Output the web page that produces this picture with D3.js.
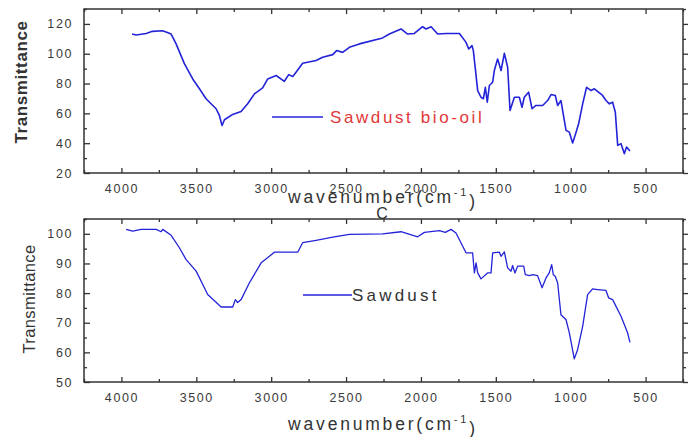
<!DOCTYPE html>
<html>
<head>
<meta charset="utf-8">
<script src="https://cdn.jsdelivr.net/npm/d3@7"></script>
<style>
  html, body { margin: 0; padding: 0; background: #fff; }
  svg { display: block; font-family: "Liberation Sans", Arial, sans-serif; }
</style>
</head>
<body>
<svg id="chart" width="696" height="437"></svg>
<script>
// ---- Data ----
const xTicks = [4000, 3500, 3000, 2500, 2000, 1500, 1000, 500];
const topYTicks = [20, 40, 60, 80, 100, 120];
const bottomYTicks = [50, 60, 70, 80, 90, 100];

const bioOilWavenumber = [3929,3902,3835,3793,3726,3693,3668,3635,3579,3524,3479,3435,3368,3346,3328,3312,3257,3201,3157,3112,3057,3023,2967,2912,2883,2856,2834,2790,2700,2656,2589,2563,2523,2478,2411,2256,2211,2133,2089,2044,1989,1966,1932,1888,1832,1743,1699,1681,1659,1650,1621,1599,1583,1570,1557,1543,1521,1510,1488,1465,1443,1421,1405,1376,1343,1325,1310,1281,1258,1232,1187,1154,1131,1103,1087,1065,1031,1009,987,964,947,920,894,864,842,787,764,742,720,702,686,664,642,627,604];
const bioOilTransmittance = [113.2,112.6,113.6,115,115.4,114.3,113.2,106.6,93.2,83.1,76.5,69.8,63.1,58.6,51.9,55.7,59.3,61.3,66.4,73.1,77.1,83.1,85.4,81.5,86,84.7,87.6,93.6,95.4,97.6,99.4,102.1,100.9,104.3,106.6,110.6,113.2,116.6,113.2,113.6,118.1,116.6,118.1,113.2,113.6,113.6,107.6,103.2,105.4,102.1,75.3,70.8,69.8,77.5,67.5,78.7,80.9,88.7,96.5,88.7,100.3,90.9,61.9,70.8,70.8,64.1,70.8,74.2,63.1,65.3,65.3,68.6,72.6,72,65.3,68.6,48.6,47.4,40.1,47.4,53,66.4,77.5,75.3,76.5,72,68.6,66.4,67.5,60.8,38.5,39.7,33,37.4,34.7];

const sawdustWavenumber = [3969,3925,3868,3768,3735,3724,3668,3613,3568,3501,3424,3334,3257,3239,3224,3201,3146,3067,3012,2979,2823,2790,2700,2589,2478,2256,2133,2022,1977,1877,1837,1799,1766,1699,1655,1643,1632,1621,1599,1555,1532,1521,1476,1465,1443,1421,1398,1388,1372,1354,1314,1303,1276,1254,1221,1191,1165,1143,1127,1116,1103,1087,1065,1031,1009,976,954,920,887,854,820,764,747,720,664,620,604];
const sawdustTransmittance = [101.5,100.9,101.5,101.5,100.7,101.5,99.5,95.3,91.3,87.4,79.5,75.3,75.3,77.8,76.8,77.8,83.4,90.2,92.4,93.8,93.8,97,97.8,98.9,99.8,100,100.7,99,100.5,101.1,100.5,101.5,100.3,93.6,93.6,86.8,90.2,86.8,84.8,86.8,86.8,93.6,93.8,92.4,93.9,88.5,87.4,89.3,86.8,89.1,89.1,86.2,85.9,86.2,85.9,81.8,85.1,86.8,89.6,86.2,85.7,83.4,72.7,71,66.6,57.8,60.9,68.8,79.5,81.4,81.2,80.9,78.4,77.8,72.2,66.6,63.4];

const panels = [
  {
    xs: bioOilWavenumber, ys: bioOilTransmittance,
    yDomain: [20, 130], yTicks: topYTicks, yMinorStep: 10,
    top: 9, bottom: 173,
    yTitle: "Transmittance", yTitleX: 21, yTitleY: 82, yTitleSize: 17, yTitleWeight: "bold", yTitleSpacing: "0.6px",
    xTitleY: 203, showC: true,
    legend: { x1: 272, x2: 323, y: 117, label: "Sawdust bio-oil", color: "#e2383a", textX: 330, spacing: "2.6px" },
    lineWidth: 1.6
  },
  {
    xs: sawdustWavenumber, ys: sawdustTransmittance,
    yDomain: [50, 105], yTicks: bottomYTicks, yMinorStep: 5,
    top: 219, bottom: 382,
    yTitle: "Transmittance", yTitleX: 29, yTitleY: 299, yTitleSize: 16.5, yTitleWeight: "normal", yTitleSpacing: "0.4px",
    xTitleY: 430, showC: false,
    legend: { x1: 303, x2: 352, y: 295, label: "Sawdust", color: "#333", textX: 352, spacing: "3.2px" },
    lineWidth: 1.3
  }
];

const svg = d3.select("#chart");
const left = 84, right = 683;
const axisColor = "#333";
const lineColor = "#2323d8";

panels.forEach(p => {
  const x = d3.scaleLinear().domain([4250, 250]).range([left, right]);
  const y = d3.scaleLinear().domain(p.yDomain).range([p.bottom, p.top]);
  const g = svg.append("g");

  const xMinor = d3.range(4250, 249, -250).filter(v => !xTicks.includes(v));
  const yMinor = d3.range(p.yDomain[0], p.yDomain[1] + 0.01, p.yMinorStep).filter(v => !p.yTicks.includes(v));

  function styleAxis(sel) {
    sel.select(".domain").remove();
    sel.selectAll("line").attr("stroke", axisColor).attr("stroke-width", 1.3);
    sel.selectAll("text").attr("fill", "#3a3a3a").attr("font-size", 12.5).attr("letter-spacing", "1.6px");
  }

  // bottom axis (ticks inward)
  g.append("g").attr("transform", `translate(0,${p.bottom})`)
    .call(d3.axisBottom(x).tickValues(xTicks).tickSize(-5).tickPadding(11).tickFormat(d3.format("d")))
    .call(styleAxis);
  g.append("g").attr("transform", `translate(0,${p.bottom})`)
    .call(d3.axisBottom(x).tickValues(xMinor).tickSize(-3).tickFormat(""))
    .call(styleAxis);
  // top axis (ticks inward)
  g.append("g").attr("transform", `translate(0,${p.top})`)
    .call(d3.axisTop(x).tickValues(xTicks).tickSize(-5).tickFormat(""))
    .call(styleAxis);
  g.append("g").attr("transform", `translate(0,${p.top})`)
    .call(d3.axisTop(x).tickValues(xMinor).tickSize(-3).tickFormat(""))
    .call(styleAxis);
  // left axis (ticks inward)
  g.append("g").attr("transform", `translate(${left},0)`)
    .call(d3.axisLeft(y).tickValues(p.yTicks).tickSize(-6).tickPadding(11).tickFormat(d3.format("d")))
    .call(styleAxis);
  g.append("g").attr("transform", `translate(${left},0)`)
    .call(d3.axisLeft(y).tickValues(yMinor).tickSize(-3).tickFormat(""))
    .call(styleAxis);
  // right axis (ticks outward)
  g.append("g").attr("transform", `translate(${right},0)`)
    .call(d3.axisRight(y).tickValues(p.yTicks).tickSize(5).tickFormat(""))
    .call(styleAxis);
  g.append("g").attr("transform", `translate(${right},0)`)
    .call(d3.axisRight(y).tickValues(yMinor).tickSize(3).tickFormat(""))
    .call(styleAxis);

  // frame
  g.append("rect")
    .attr("x", left).attr("y", p.top)
    .attr("width", right - left).attr("height", p.bottom - p.top)
    .attr("fill", "none").attr("stroke", axisColor).attr("stroke-width", 1.5);

  // spectrum
  const pts = p.xs.map((v, i) => [v, p.ys[i]]);
  g.append("path")
    .datum(pts)
    .attr("fill", "none")
    .attr("stroke", lineColor)
    .attr("stroke-width", p.lineWidth)
    .attr("stroke-linejoin", "round")
    .attr("d", d3.line().x(d => x(d[0])).y(d => y(d[1])));

  // legend
  g.append("line")
    .attr("x1", p.legend.x1).attr("x2", p.legend.x2)
    .attr("y1", p.legend.y).attr("y2", p.legend.y)
    .attr("stroke", lineColor).attr("stroke-width", 1.4);
  g.append("text")
    .attr("x", p.legend.textX).attr("y", p.legend.y)
    .attr("dy", "0.36em")
    .attr("fill", p.legend.color)
    .attr("font-size", 17)
    .attr("letter-spacing", p.legend.spacing)
    .text(p.legend.label);

  // y title
  g.append("text")
    .attr("transform", `translate(${p.yTitleX},${p.yTitleY}) rotate(-90)`)
    .attr("text-anchor", "middle")
    .attr("dy", "0.36em")
    .attr("fill", "#333")
    .attr("font-size", p.yTitleSize)
    .attr("font-weight", p.yTitleWeight)
    .attr("letter-spacing", p.yTitleSpacing)
    .text(p.yTitle);

  // x title
  const xt = g.append("text")
    .attr("x", 383).attr("y", p.xTitleY)
    .attr("text-anchor", "middle")
    .attr("fill", "#333")
    .attr("font-size", 17.5)
    .attr("letter-spacing", "2.8px");
  xt.append("tspan").text("wavenumber(cm");
  xt.append("tspan").attr("font-size", 11).attr("dy", "-0.6em").text("-1");
  xt.append("tspan").attr("dy", "0.6em").text(")");

  if (p.showC) {
    g.append("text")
      .attr("x", 382).attr("y", 219)
      .attr("text-anchor", "middle")
      .attr("fill", "#333")
      .attr("font-size", 16)
      .text("C");
  }
});
</script>
</body>
</html>
